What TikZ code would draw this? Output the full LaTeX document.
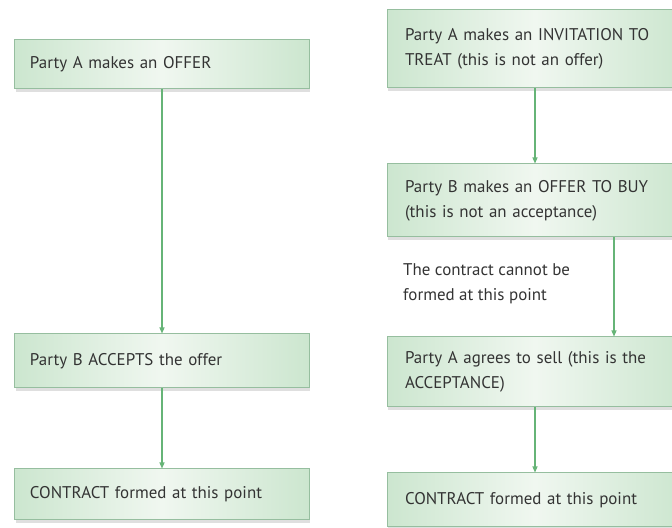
\documentclass[tikz,border=0pt]{standalone}
\usepackage{fontspec}
\setmainfont{PT Sans}
\usetikzlibrary{arrows.meta, positioning, shadows}
\definecolor{boxedge}{HTML}{96BE9F}
\definecolor{boxfill}{HTML}{CCE6CF}
\definecolor{boxmid}{HTML}{F0F7F0}
\definecolor{flowgreen}{HTML}{66B477}
\definecolor{flowink}{HTML}{333333}

\begin{document}
\begin{tikzpicture}[x=1bp, y=1bp,
        stage/.style={draw=boxedge, line width=1bp, left color=boxfill, right color=boxfill, middle color=boxmid, align=left, text=flowink, font=\fontsize{17}{25}\selectfont, inner xsep=15bp, text width=264bp, minimum width=294bp, drop shadow={shadow xshift=1bp, shadow yshift=-3bp, opacity=0.25}},
        widestage/.style={stage, inner xsep=18bp, text width=260bp, minimum width=296bp},
        note/.style={align=left, text=flowink, font=\fontsize{17}{25}\selectfont, inner sep=0pt},
        arrow/.style={-{Triangle[length=6bp, width=5bp]}, line width=1.2bp, flowgreen}
    ]
        \useasboundingbox (0,0) rectangle (672,528);
        \clip (0,0) rectangle (672,528);

        % plain offer
        \node (l1) [stage, minimum height=49bp] at (162,463.5) {Party A makes an OFFER};
        \node (l2) [stage, minimum height=54bp] at (162,167) {Party B ACCEPTS the offer};
        \node (l3) [stage, minimum height=51bp] at (162,33.5) {CONTRACT formed at this point};

        % invitation to treat
        \node (r1) [widestage, minimum height=78bp] at (535,479) {Party A makes an INVITATION TO\\TREAT (this is not an offer)};
        \node (r2) [widestage, minimum height=73bp] at (535,327.5) {Party B makes an OFFER TO BUY\\(this is not an acceptance)};
        \node (r3) [widestage, minimum height=70bp] at (535,156) {Party A agrees to sell (this is the\\ACCEPTANCE)};
        \node (r4) [widestage, minimum height=54bp] at (535,28) {CONTRACT formed at this point};
        \node (cannot) [note, anchor=west] at (403,244.5) {The contract cannot be\\formed at this point};

        \draw [arrow] (l1) -- (l2);
        \draw [arrow] (l2) -- (l3);
        \draw [arrow] (r1) -- (r2);
        \draw [arrow] ([xshift=79bp]r2.south) -- ([xshift=79bp]r3.north);
        \draw [arrow] (r3) -- (r4);
    \end{tikzpicture}
\end{document}
